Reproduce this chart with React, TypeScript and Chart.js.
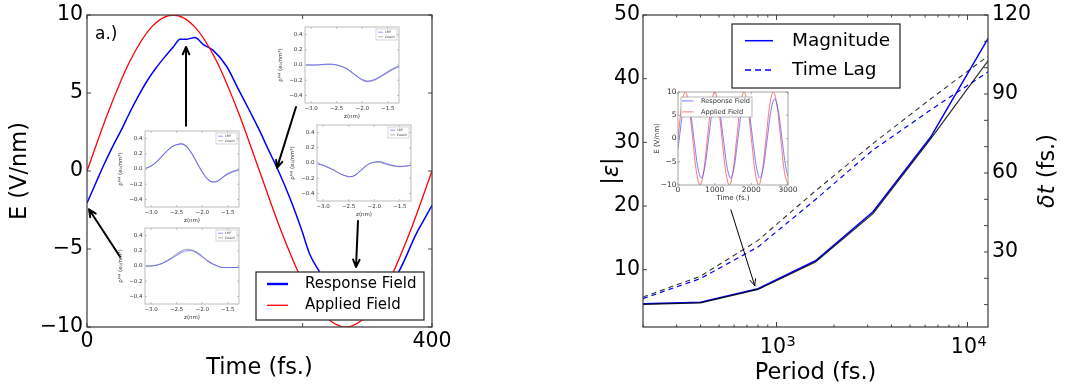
import React, { useEffect, useRef } from "react";
import { Chart, registerables } from "chart.js";

Chart.register(...registerables);

const FONT = "'DejaVu Sans', 'Liberation Sans', sans-serif";
Chart.defaults.font.family = FONT;
Chart.defaults.color = "#000";

// ---------- Panel a.): applied vs. response field over one 400 fs period ----------
const appliedTime = [0, 25, 50, 75, 100, 125, 150, 175, 200, 225, 250, 275, 300, 325, 350, 375, 400];
const appliedField = [0, 3.83, 7.07, 9.24, 10, 9.24, 7.07, 3.83, 0, -3.83, -7.07, -9.24, -10, -9.24, -7.07, -3.83, 0];
const responseTime = [0, 10, 20, 30, 40, 50, 60, 70, 80, 90, 100, 108, 116, 125, 135, 146, 162, 175, 190, 200, 210, 222, 235, 249, 258, 270, 285, 300, 315, 330, 345, 361, 382, 390, 400];
const responseField = [-2.05, -0.8, 0.45, 1.6, 2.65, 3.8, 4.85, 5.8, 6.6, 7.3, 7.95, 8.45, 8.45, 8.55, 8.1, 7.75, 6.7, 5.3, 3.7, 2.6, 1.4, 0.0, -1.7, -3.8, -5.3, -6.5, -7.8, -8.4, -8.6, -8.3, -7.6, -6.5, -4.0, -3.2, -2.2];
const timeTickLabels = [0, 400];
const timeTickMarks = [0, 250, 400];
const fieldTicks = [-10, -5, 0, 5, 10];

// arrows from the density snapshots to the field curve: [t0, E0, t1, E1]
const fieldArrows = [
  [38.3, -5.5, 2.3, -2.45],
  [114.8, 2.9, 114.8, 7.95],
  [242.3, 4.1, 220.3, 0.2],
  [314.2, -3.2, 311.9, -6.15],
];

// ---------- induced density snapshots (insets) ----------
const densityZ = [-3.1, -3.0, -2.9, -2.8, -2.7, -2.6, -2.5, -2.4, -2.3, -2.2, -2.1, -2.0, -1.9, -1.8, -1.7, -1.6, -1.5, -1.4, -1.3, -1.2];
const densityTicksZ = [-3.0, -2.5, -2.0, -1.5];
const densityTicksRho = [-0.4, -0.2, 0, 0.2, 0.4];
// t ~ 0 fs
const lmfStart = [0.0, 0.0, 0.01, 0.03, 0.06, 0.1, 0.14, 0.18, 0.2, 0.2, 0.17, 0.12, 0.07, 0.03, 0.0, -0.02, -0.02, -0.02, -0.02, -0.02];
const ewaldStart = [0.0, 0.0, 0.01, 0.03, 0.07, 0.11, 0.16, 0.2, 0.22, 0.21, 0.18, 0.13, 0.07, 0.03, 0.0, -0.02, -0.02, -0.02, -0.02, -0.02];
// t ~ 115 fs
const lmfPeak = [0.01, 0.04, 0.09, 0.16, 0.23, 0.29, 0.32, 0.33, 0.29, 0.2, 0.08, -0.04, -0.13, -0.17, -0.16, -0.11, -0.06, -0.03, -0.01, 0.0];
const ewaldPeak = [0.01, 0.04, 0.09, 0.16, 0.23, 0.29, 0.32, 0.33, 0.29, 0.2, 0.08, -0.04, -0.13, -0.17, -0.16, -0.11, -0.07, -0.04, -0.02, -0.01];
// t ~ 220 fs
const lmfCross = [0.0, 0.0, 0.0, 0.005, 0.01, 0.01, 0.0, -0.02, -0.05, -0.1, -0.15, -0.19, -0.21, -0.2, -0.17, -0.13, -0.09, -0.05, -0.02, -0.01];
const ewaldCross = [0.0, 0.0, 0.0, 0.005, 0.01, 0.01, 0.0, -0.02, -0.05, -0.1, -0.15, -0.2, -0.22, -0.21, -0.18, -0.14, -0.1, -0.06, -0.03, -0.02];
// t ~ 315 fs
const lmfTrough = [-0.01, -0.03, -0.06, -0.09, -0.13, -0.16, -0.18, -0.17, -0.12, -0.06, -0.01, 0.01, 0.02, 0.0, -0.02, -0.04, -0.045, -0.04, -0.03, -0.03];
const ewaldTrough = [-0.01, -0.03, -0.06, -0.09, -0.13, -0.16, -0.18, -0.17, -0.12, -0.06, -0.01, 0.01, 0.01, -0.01, -0.03, -0.04, -0.05, -0.045, -0.035, -0.03];

// ---------- Panel b: magnitude and time lag vs. period ----------
const periods = [200, 400, 800, 1600, 3200, 6400, 12800];
const magnitudeBlue = [4.65, 4.9, 7.0, 11.4, 19.1, 30.8, 46.3];
const magnitudeBlack = [4.55, 4.8, 6.9, 11.2, 18.8, 30.5, 42.8];
const lagBlue = [12.3, 19.9, 31.9, 49.9, 68.7, 83.9, 98.4];
const lagBlack = [12.9, 20.8, 34.4, 53.2, 71.2, 88.1, 104.4];
const periodMajor = [1000, 10000];
const periodMinor = [200, 300, 400, 500, 600, 700, 800, 900, 2000, 3000, 4000, 5000, 6000, 7000, 8000, 9000];
const magnitudeTicks = [10, 20, 30, 40, 50];
const lagTicks = [30, 60, 90, 120];
const lagMinor = [10, 20, 40, 50, 70, 80, 100, 110];
// arrow from the time-trace inset to the 800 fs point: [period0, |E|0, period1, |E|1]
const periodArrow = [577, 19.4, 769, 7.5];

// ---------- time trace for an 800 fs period ----------
const traceAppliedTime = [0, 100, 200, 300, 400, 500, 600, 700, 800, 900, 1000, 1100, 1200, 1300, 1400, 1500, 1600, 1700, 1800, 1900, 2000, 2100, 2200, 2300, 2400, 2500, 2600, 2700, 2800, 2900, 3000];
const traceApplied = [0, 7.07, 10, 7.07, 0, -7.07, -10, -7.07, 0, 7.07, 10, 7.07, 0, -7.07, -10, -7.07, 0, 7.07, 10, 7.07, 0, -7.07, -10, -7.07, 0, 7.07, 10, 7.07, 0, -7.07, -10];
const traceResponseTime = [0, 35, 135, 235, 335, 435, 535, 635, 735, 835, 935, 1035, 1135, 1235, 1335, 1435, 1535, 1635, 1735, 1835, 1935, 2035, 2135, 2235, 2335, 2435, 2535, 2635, 2735, 2835, 2935, 3000];
const traceResponse = [-2.3, 0, 6.0, 8.5, 6.0, 0, -6.0, -8.5, -6.0, 0, 6.0, 8.5, 6.0, 0, -6.0, -8.5, -6.0, 0, 6.0, 8.5, 6.0, 0, -6.0, -8.5, -6.0, 0, 6.0, 8.5, 6.0, 0, -6.0, -8.2];
const traceTicksT = [0, 1000, 2000, 3000];
const traceTicksE = [-10, -5, 0, 5, 10];

// ---------------------------------------------------------------------------

const pts = (xs: number[], ys: number[]) => xs.map((x, i) => ({ x, y: ys[i] }));

function fmtNum(v: number, digits = 0) {
  const a = Math.abs(v);
  const s = digits ? a.toFixed(digits) : String(Math.round(a));
  return (v < -1e-9 ? "\u2212" : "") + s;
}

function fixSize(prop: "width" | "height", size: number) {
  return (s: any) => {
    s[prop] = size;
    s.paddingLeft = 0;
    s.paddingRight = 0;
    s.paddingTop = 0;
    s.paddingBottom = 0;
  };
}

function setTicks(values: number[]) {
  return (s: any) => {
    s.ticks = values.map((v) => ({ value: v }));
  };
}

function drawTicks(chart: any, id: string, values: number[], len: number, sides: string[], color = "#222", lw = 1) {
  const s = chart.scales[id];
  const a = chart.chartArea;
  const ctx = chart.ctx;
  ctx.save();
  ctx.strokeStyle = color;
  ctx.lineWidth = lw;
  ctx.beginPath();
  for (const v of values) {
    const p = s.getPixelForValue(v);
    if (s.isHorizontal()) {
      if (sides.includes("bottom")) { ctx.moveTo(p, a.bottom); ctx.lineTo(p, a.bottom - len); }
      if (sides.includes("top")) { ctx.moveTo(p, a.top); ctx.lineTo(p, a.top + len); }
    } else {
      if (sides.includes("left")) { ctx.moveTo(a.left, p); ctx.lineTo(a.left + len, p); }
      if (sides.includes("right")) { ctx.moveTo(a.right, p); ctx.lineTo(a.right - len, p); }
    }
  }
  ctx.stroke();
  ctx.restore();
}

function strokeFrame(chart: any, color: string, lw: number) {
  const { ctx, chartArea: a } = chart;
  ctx.save();
  ctx.strokeStyle = color;
  ctx.lineWidth = lw;
  ctx.strokeRect(a.left, a.top, a.right - a.left, a.bottom - a.top);
  ctx.restore();
}

function drawArrow(ctx: CanvasRenderingContext2D, x0: number, y0: number, x1: number, y1: number, lw: number, head: number) {
  ctx.save();
  ctx.strokeStyle = "#000";
  ctx.lineWidth = lw;
  ctx.lineCap = "round";
  ctx.lineJoin = "round";
  ctx.beginPath();
  ctx.moveTo(x0, y0);
  ctx.lineTo(x1, y1);
  const ang = Math.atan2(y1 - y0, x1 - x0);
  for (const sgn of [-1, 1]) {
    ctx.moveTo(x1, y1);
    ctx.lineTo(x1 - head * Math.cos(ang + sgn * 0.42), y1 - head * Math.sin(ang + sgn * 0.42));
  }
  ctx.stroke();
  ctx.restore();
}

type Entry = { label: string; color: string; width: number; dash?: number[]; dy: number };

function drawLegend(
  ctx: CanvasRenderingContext2D,
  x: number, y: number, w: number, h: number,
  entries: Entry[], lineX0: number, lineX1: number, textX: number,
  fontSize: number, border: string, borderW: number, textColor = "#000"
) {
  ctx.save();
  ctx.fillStyle = "#fff";
  ctx.fillRect(x, y, w, h);
  ctx.strokeStyle = border;
  ctx.lineWidth = borderW;
  ctx.strokeRect(x, y, w, h);
  ctx.font = `${fontSize}px ${FONT}`;
  ctx.textBaseline = "middle";
  ctx.textAlign = "left";
  for (const e of entries) {
    ctx.strokeStyle = e.color;
    ctx.lineWidth = e.width;
    ctx.setLineDash(e.dash || []);
    ctx.beginPath();
    ctx.moveTo(x + lineX0, y + e.dy);
    ctx.lineTo(x + lineX1, y + e.dy);
    ctx.stroke();
    ctx.setLineDash([]);
    ctx.fillStyle = textColor;
    ctx.fillText(e.label, x + textX, y + e.dy);
  }
  ctx.restore();
}

const common = {
  animation: false,
  responsive: false,
  devicePixelRatio: 1,
  events: [],
  plugins: { legend: { display: false }, tooltip: { enabled: false } },
};

const noGrid = { display: false, drawTicks: false };

// ---------------------------------------------------------------------------
// Panel a.)

function fieldConfig(): any {
  const decor = {
    id: "fieldDecor",
    afterDraw(chart: any) {
      const { ctx, chartArea: a } = chart;
      const sx = chart.scales.x;
      const sy = chart.scales.y;
      drawTicks(chart, "x", timeTickMarks, 4, ["bottom", "top"], "#444");
      drawTicks(chart, "y", fieldTicks, 4, ["left", "right"], "#444");
      strokeFrame(chart, "#3a3a3a", 1.2);

      ctx.save();
      ctx.font = `17px ${FONT}`;
      ctx.fillStyle = "#000";
      ctx.textBaseline = "alphabetic";
      ctx.fillText("a.)", a.left + 8, a.top + 24);
      ctx.restore();

      for (const [t0, e0, t1, e1] of fieldArrows) {
        drawArrow(ctx, sx.getPixelForValue(t0), sy.getPixelForValue(e0), sx.getPixelForValue(t1), sy.getPixelForValue(e1), 2, 8);
      }

      drawLegend(
        ctx, a.right - 176, a.bottom - 55, 168, 48,
        [
          { label: "Response Field", color: "#0000ff", width: 2.4, dy: 12 },
          { label: "Applied Field", color: "#ff0000", width: 1.3, dy: 33.3 },
        ],
        11, 32, 49, 15, "#222", 1.2
      );
    },
  };
  return {
    type: "line",
    data: {
      datasets: [
        { label: "Applied Field", data: pts(appliedTime, appliedField), borderColor: "#ff0000", borderWidth: 1.3, pointRadius: 0, cubicInterpolationMode: "monotone", fill: false },
        { label: "Response Field", data: pts(responseTime, responseField), borderColor: "#0000ff", borderWidth: 1.5, pointRadius: 0, cubicInterpolationMode: "monotone", fill: false },
      ],
    },
    options: {
      ...common,
      layout: { padding: { left: 0, top: 15, right: 38, bottom: 0 }, autoPadding: false },
      scales: {
        x: {
          type: "linear", min: 0, max: 400,
          afterBuildTicks: setTicks(timeTickLabels),
          afterFit: fixSize("height", 65),
          grid: noGrid, border: { display: false },
          ticks: { font: { size: 20.5 }, color: "#000", padding: 2, maxRotation: 0, autoSkip: false, callback: (v: number) => fmtNum(v) },
          title: { display: true, text: "Time (fs.)", font: { size: 22.5 }, color: "#000", padding: { top: 0, bottom: 10 } },
        },
        y: {
          type: "linear", min: -10, max: 10,
          afterBuildTicks: setTicks(fieldTicks),
          afterFit: fixSize("width", 87),
          grid: noGrid, border: { display: false },
          ticks: { font: { size: 20.5 }, color: "#000", padding: 4, autoSkip: false, callback: (v: number) => fmtNum(v) },
          title: { display: true, text: "E (V/nm)", font: { size: 22.5 }, color: "#000", padding: { top: 6.5, bottom: 0 } },
        },
      },
    },
    plugins: [decor],
  };
}

// density snapshot inset (94 x 76 plot box)
function densityConfig(lmf: number[], ewald: number[]): any {
  const decor = {
    id: "densityDecor",
    beforeDraw(chart: any) {
      const { ctx, chartArea: a } = chart;
      ctx.save();
      ctx.fillStyle = "#fff";
      ctx.fillRect(a.left, a.top, a.right - a.left, a.bottom - a.top);
      ctx.restore();
    },
    afterDraw(chart: any) {
      const { ctx, chartArea: a } = chart;
      drawTicks(chart, "x", densityTicksZ, 2, ["bottom", "top"], "#999", 0.6);
      drawTicks(chart, "y", densityTicksRho, 2, ["left", "right"], "#999", 0.6);
      strokeFrame(chart, "#aaa", 0.8);
      drawLegend(
        ctx, a.right - 23, a.top + 2, 21, 11,
        [
          { label: "LMF", color: "rgba(90,90,255,0.8)", width: 0.8, dy: 3.2 },
          { label: "Ewald", color: "rgba(110,110,110,0.9)", width: 0.6, dy: 7.8 },
        ],
        2, 7, 9, 3.2, "#bbb", 0.6, "#444"
      );
    },
  };
  return {
    type: "line",
    data: {
      datasets: [
        { label: "LMF", data: pts(densityZ, lmf), borderColor: "rgba(90,90,255,0.7)", borderWidth: 1.1, pointRadius: 0, cubicInterpolationMode: "monotone", fill: false },
        { label: "Ewald", data: pts(densityZ, ewald), borderColor: "rgba(100,100,100,0.75)", borderWidth: 0.8, pointRadius: 0, cubicInterpolationMode: "monotone", fill: false },
      ],
    },
    options: {
      ...common,
      layout: { padding: { left: 0, top: 5, right: 6, bottom: 0 }, autoPadding: false },
      scales: {
        x: {
          type: "linear", min: -3.12, max: -1.28,
          afterBuildTicks: setTicks(densityTicksZ),
          afterFit: fixSize("height", 20),
          grid: noGrid, border: { display: false },
          ticks: { font: { size: 5.5 }, color: "#333", padding: 2.2, maxRotation: 0, autoSkip: false, callback: (v: number) => fmtNum(v, 1) },
          title: { display: true, text: "z(nm)", font: { size: 5.5 }, color: "#333", padding: { top: 0, bottom: 3.2 } },
        },
        y: {
          type: "linear", min: -0.5, max: 0.5,
          afterBuildTicks: setTicks(densityTicksRho),
          afterFit: fixSize("width", 34),
          grid: noGrid, border: { display: false },
          ticks: { font: { size: 5.5 }, color: "#333", padding: 2.5, autoSkip: false, callback: (v: number) => fmtNum(v, 1) },
          title: { display: true, text: "\u03c1\u2071\u207f\u1d48 (e\u2080/nm\u00b3)", font: { size: 5.5 }, color: "#333", padding: { top: 6.5, bottom: 0 } },
        },
      },
    },
    plugins: [decor],
  };
}

// ---------------------------------------------------------------------------
// Panel b

function periodConfig(): any {
  const decor = {
    id: "periodDecor",
    afterDraw(chart: any) {
      const { ctx, chartArea: a } = chart;
      const sx = chart.scales.x;
      const sy = chart.scales.y;
      drawTicks(chart, "x", periodMajor, 5, ["bottom", "top"], "#444");
      drawTicks(chart, "x", periodMinor, 2.5, ["bottom", "top"], "#444");
      drawTicks(chart, "y", magnitudeTicks, 4, ["left"], "#444");
      drawTicks(chart, "y2", lagTicks, 4, ["right"], "#444");
      drawTicks(chart, "y2", lagMinor, 4, ["right"], "#444");
      strokeFrame(chart, "#3a3a3a", 1.2);

      // period tick labels as powers of ten
      ctx.save();
      ctx.fillStyle = "#000";
      ctx.textBaseline = "alphabetic";
      for (const v of periodMajor) {
        const p = sx.getPixelForValue(v);
        const exp = String(Math.round(Math.log10(v)));
        ctx.font = `20.5px ${FONT}`;
        const wb = ctx.measureText("10").width;
        ctx.font = `14.5px ${FONT}`;
        const we = ctx.measureText(exp).width;
        const x0 = p - (wb + we) / 2 + 1;
        ctx.font = `20.5px ${FONT}`;
        ctx.fillText("10", x0, a.bottom + 26);
        ctx.font = `14.5px ${FONT}`;
        ctx.fillText(exp, x0 + wb + 0.5, a.bottom + 19);
      }
      ctx.restore();

      // right axis title
      ctx.save();
      ctx.translate(a.right + 60, (a.top + a.bottom) / 2);
      ctx.rotate(-Math.PI / 2);
      ctx.fillStyle = "#000";
      ctx.textBaseline = "middle";
      ctx.font = `italic 22.5px ${FONT}`;
      const w1 = ctx.measureText("\u03b4t").width;
      ctx.font = `22.5px ${FONT}`;
      const w2 = ctx.measureText(" (fs.)").width;
      ctx.font = `italic 22.5px ${FONT}`;
      ctx.fillText("\u03b4t", -(w1 + w2) / 2, 0);
      ctx.font = `22.5px ${FONT}`;
      ctx.fillText(" (fs.)", -(w1 + w2) / 2 + w1, 0);
      ctx.restore();

      const [p0, m0, p1, m1] = periodArrow;
      drawArrow(ctx, sx.getPixelForValue(p0), sy.getPixelForValue(m0), sx.getPixelForValue(p1), sy.getPixelForValue(m1), 1, 7);

      drawLegend(
        ctx, a.left + 89, a.top + 9, 168, 64,
        [
          { label: "Magnitude", color: "#0000ff", width: 1.5, dy: 16.7 },
          { label: "Time Lag", color: "#0000ff", width: 1.5, dash: [6, 4], dy: 46 },
        ],
        13, 41, 60, 18.5, "#222", 1.2
      );
    },
  };
  return {
    type: "line",
    data: {
      datasets: [
        { label: "Magnitude (model)", data: pts(periods, magnitudeBlack), yAxisID: "y", borderColor: "rgba(0,0,0,0.85)", borderWidth: 1.2, pointRadius: 0, tension: 0, fill: false },
        { label: "Time Lag (model)", data: pts(periods, lagBlack), yAxisID: "y2", borderColor: "rgba(0,0,0,0.8)", borderWidth: 1.1, borderDash: [5, 4], pointRadius: 0, tension: 0, fill: false },
        { label: "Magnitude", data: pts(periods, magnitudeBlue), yAxisID: "y", borderColor: "#0000ff", borderWidth: 1.5, pointRadius: 0, tension: 0, fill: false },
        { label: "Time Lag", data: pts(periods, lagBlue), yAxisID: "y2", borderColor: "#0000ff", borderWidth: 1.2, borderDash: [5, 4], pointRadius: 0, tension: 0, fill: false },
      ],
    },
    options: {
      ...common,
      layout: { padding: { left: 0, top: 15, right: 0, bottom: 0 }, autoPadding: false },
      scales: {
        x: {
          type: "logarithmic", min: 200, max: 12800,
          afterBuildTicks: setTicks(periodMajor),
          afterFit: fixSize("height", 65),
          grid: noGrid, border: { display: false },
          ticks: { display: false },
          title: { display: true, text: "Period (fs.)", font: { size: 22.5 }, color: "#000", padding: { top: 0, bottom: 5 } },
        },
        y: {
          type: "linear", position: "left", min: 1, max: 50,
          afterBuildTicks: setTicks(magnitudeTicks),
          afterFit: fixSize("width", 83),
          grid: noGrid, border: { display: false },
          ticks: { font: { size: 20.5 }, color: "#000", padding: 3, autoSkip: false, callback: (v: number) => fmtNum(v) },
          title: { display: true, text: "|\u03b5|", font: { size: 22.5, style: "italic" }, color: "#000", padding: { top: 38.5, bottom: 0 } },
        },
        y2: {
          type: "linear", position: "right", min: 1.5, max: 120,
          afterBuildTicks: setTicks(lagTicks),
          afterFit: fixSize("width", 77),
          grid: noGrid, border: { display: false },
          ticks: { font: { size: 20.5 }, color: "#000", padding: 4, autoSkip: false, callback: (v: number) => fmtNum(v) },
        },
      },
    },
    plugins: [decor],
  };
}

function traceConfig(): any {
  const decor = {
    id: "traceDecor",
    beforeDraw(chart: any) {
      const { ctx, chartArea: a } = chart;
      ctx.save();
      ctx.fillStyle = "#fff";
      ctx.fillRect(a.left, a.top, a.right - a.left, a.bottom - a.top);
      ctx.restore();
    },
    afterDraw(chart: any) {
      const { ctx, chartArea: a } = chart;
      drawTicks(chart, "x", traceTicksT, 2, ["bottom", "top"], "#888", 0.7);
      drawTicks(chart, "y", traceTicksE, 2, ["left", "right"], "#888", 0.7);
      strokeFrame(chart, "#999", 0.9);
      drawLegend(
        ctx, a.left + 3, a.top + 5, 71, 20,
        [
          { label: "Response Field", color: "rgba(80,80,255,0.75)", width: 1, dy: 3.9 },
          { label: "Applied Field", color: "rgba(255,80,80,0.75)", width: 1, dy: 14.9 },
        ],
        1, 12.5, 20, 6.6, "#999", 0.7, "#333"
      );
    },
  };
  return {
    type: "line",
    data: {
      datasets: [
        { label: "Response Field", data: pts(traceResponseTime, traceResponse), borderColor: "rgba(80,80,255,0.75)", borderWidth: 1, pointRadius: 0, cubicInterpolationMode: "monotone", fill: false },
        { label: "Applied Field", data: pts(traceAppliedTime, traceApplied), borderColor: "rgba(255,70,70,0.75)", borderWidth: 1, pointRadius: 0, cubicInterpolationMode: "monotone", fill: false },
      ],
    },
    options: {
      ...common,
      layout: { padding: { left: 0, top: 4, right: 17, bottom: 0 }, autoPadding: false },
      scales: {
        x: {
          type: "linear", min: 0, max: 3000,
          afterBuildTicks: setTicks(traceTicksT),
          afterFit: fixSize("height", 18),
          grid: noGrid, border: { display: false },
          ticks: { font: { size: 7.5 }, color: "#333", padding: 0.5, maxRotation: 0, autoSkip: false, callback: (v: number) => fmtNum(v) },
          title: { display: true, text: "Time (fs.)", font: { size: 7 }, color: "#333", padding: { top: 0, bottom: 0.5 } },
        },
        y: {
          type: "linear", min: -10, max: 10,
          afterBuildTicks: setTicks(traceTicksE),
          afterFit: fixSize("width", 33),
          grid: noGrid, border: { display: false },
          ticks: { font: { size: 7.5 }, color: "#333", padding: 1.5, autoSkip: false, callback: (v: number) => fmtNum(v) },
          title: { display: true, text: "E (V/nm)", font: { size: 7 }, color: "#333", padding: { top: 7.8, bottom: 0 } },
        },
      },
    },
    plugins: [decor],
  };
}

// ---------------------------------------------------------------------------

function ChartCanvas({ left, top, width, height, make }: { left: number; top: number; width: number; height: number; make: () => any }) {
  const ref = useRef<HTMLCanvasElement | null>(null);
  useEffect(() => {
    if (!ref.current) return;
    const chart = new Chart(ref.current, make());
    return () => chart.destroy();
  }, []);
  return (
    <canvas
      ref={ref}
      width={width}
      height={height}
      style={{ position: "absolute", left, top, width, height, display: "block" }}
    />
  );
}

// density inset placed so that its 94x76 plot box starts at (bx, by)
function DensityInset({ bx, by, lmf, ewald }: { bx: number; by: number; lmf: number[]; ewald: number[] }) {
  return <ChartCanvas left={bx - 34} top={by - 5} width={134} height={101} make={() => densityConfig(lmf, ewald)} />;
}

export default function App() {
  return (
    <div style={{ position: "fixed", left: 0, top: 0, width: 1065, height: 392, background: "#fff", overflow: "hidden" }}>
      <ChartCanvas left={0} top={0} width={470} height={392} make={fieldConfig} />
      <DensityInset bx={305} by={27} lmf={lmfCross} ewald={ewaldCross} />
      <DensityInset bx={145} by={131} lmf={lmfPeak} ewald={ewaldPeak} />
      <DensityInset bx={145} by={228} lmf={lmfStart} ewald={ewaldStart} />
      <DensityInset bx={317} by={125} lmf={lmfTrough} ewald={ewaldTrough} />
      <ChartCanvas left={560} top={0} width={505} height={392} make={periodConfig} />
      <ChartCanvas left={645} top={88} width={160} height={115} make={traceConfig} />
    </div>
  );
}
